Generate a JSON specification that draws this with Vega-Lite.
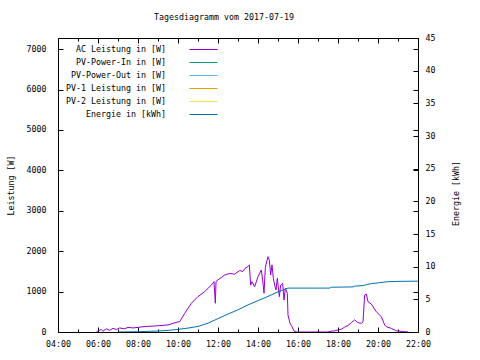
{
  "$schema": "https://vega.github.io/schema/vega-lite/v6.json",
  "width": 360,
  "height": 294,
  "autosize": {"type": "none"},
  "padding": {"left": 58, "top": 38, "right": 62, "bottom": 28},
  "background": "white",
  "title": {"text": "Tagesdiagramm vom 2017-07-19", "fontSize": 8.3, "fontWeight": "normal", "font": "DejaVu Sans Mono", "color": "black", "anchor": "middle", "dx": -14, "offset": 12},
  "config": {
    "font": "DejaVu Sans Mono",
    "view": {"stroke": "black", "strokeWidth": 1},
    "axis": {"grid": false, "domain": false, "labelFontSize": 8.3, "titleFontSize": 8.3, "titleFontWeight": "normal", "labelColor": "black", "titleColor": "black", "tickColor": "black", "labelFlush": false, "labelOverlap": false, "labelFont": "DejaVu Sans Mono", "titleFont": "DejaVu Sans Mono"}
  },
  "datasets": {
    "ac": [
      {"h": 5.917, "w": 0, "s": "AC Leistung in [W]"}, {"h": 6, "w": 30, "s": "AC Leistung in [W]"}, {"h": 6.167, "w": 60, "s": "AC Leistung in [W]"}, {"h": 6.25, "w": 20, "s": "AC Leistung in [W]"},
      {"h": 6.417, "w": 80, "s": "AC Leistung in [W]"}, {"h": 6.583, "w": 40, "s": "AC Leistung in [W]"}, {"h": 6.75, "w": 90, "s": "AC Leistung in [W]"}, {"h": 6.917, "w": 60, "s": "AC Leistung in [W]"},
      {"h": 7.083, "w": 100, "s": "AC Leistung in [W]"}, {"h": 7.333, "w": 80, "s": "AC Leistung in [W]"}, {"h": 7.5, "w": 115, "s": "AC Leistung in [W]"}, {"h": 7.75, "w": 100, "s": "AC Leistung in [W]"},
      {"h": 8, "w": 115, "s": "AC Leistung in [W]"}, {"h": 8.25, "w": 130, "s": "AC Leistung in [W]"}, {"h": 8.5, "w": 140, "s": "AC Leistung in [W]"}, {"h": 8.75, "w": 145, "s": "AC Leistung in [W]"},
      {"h": 9, "w": 155, "s": "AC Leistung in [W]"}, {"h": 9.25, "w": 165, "s": "AC Leistung in [W]"}, {"h": 9.5, "w": 175, "s": "AC Leistung in [W]"}, {"h": 9.75, "w": 215, "s": "AC Leistung in [W]"},
      {"h": 10, "w": 250, "s": "AC Leistung in [W]"}, {"h": 10.083, "w": 255, "s": "AC Leistung in [W]"}, {"h": 10.333, "w": 460, "s": "AC Leistung in [W]"}, {"h": 10.667, "w": 710, "s": "AC Leistung in [W]"},
      {"h": 11, "w": 875, "s": "AC Leistung in [W]"}, {"h": 11.333, "w": 1000, "s": "AC Leistung in [W]"}, {"h": 11.667, "w": 1160, "s": "AC Leistung in [W]"}, {"h": 11.8, "w": 1245, "s": "AC Leistung in [W]"},
      {"h": 11.867, "w": 710, "s": "AC Leistung in [W]"}, {"h": 11.9, "w": 1250, "s": "AC Leistung in [W]"}, {"h": 12, "w": 1290, "s": "AC Leistung in [W]"}, {"h": 12.333, "w": 1410, "s": "AC Leistung in [W]"},
      {"h": 12.583, "w": 1450, "s": "AC Leistung in [W]"}, {"h": 12.833, "w": 1430, "s": "AC Leistung in [W]"}, {"h": 13.083, "w": 1520, "s": "AC Leistung in [W]"}, {"h": 13.25, "w": 1500, "s": "AC Leistung in [W]"},
      {"h": 13.35, "w": 1575, "s": "AC Leistung in [W]"}, {"h": 13.5, "w": 1620, "s": "AC Leistung in [W]"}, {"h": 13.567, "w": 1660, "s": "AC Leistung in [W]"}, {"h": 13.633, "w": 1160, "s": "AC Leistung in [W]"},
      {"h": 13.7, "w": 1245, "s": "AC Leistung in [W]"}, {"h": 13.833, "w": 1120, "s": "AC Leistung in [W]"}, {"h": 14, "w": 1370, "s": "AC Leistung in [W]"}, {"h": 14.167, "w": 1535, "s": "AC Leistung in [W]"},
      {"h": 14.233, "w": 1290, "s": "AC Leistung in [W]"}, {"h": 14.3, "w": 960, "s": "AC Leistung in [W]"}, {"h": 14.367, "w": 1600, "s": "AC Leistung in [W]"}, {"h": 14.5, "w": 1865, "s": "AC Leistung in [W]"},
      {"h": 14.567, "w": 1780, "s": "AC Leistung in [W]"}, {"h": 14.633, "w": 1410, "s": "AC Leistung in [W]"}, {"h": 14.7, "w": 1660, "s": "AC Leistung in [W]"}, {"h": 14.767, "w": 1330, "s": "AC Leistung in [W]"},
      {"h": 14.833, "w": 1160, "s": "AC Leistung in [W]"}, {"h": 14.9, "w": 1040, "s": "AC Leistung in [W]"}, {"h": 14.967, "w": 1330, "s": "AC Leistung in [W]"}, {"h": 15.067, "w": 875, "s": "AC Leistung in [W]"},
      {"h": 15.133, "w": 1160, "s": "AC Leistung in [W]"}, {"h": 15.233, "w": 1200, "s": "AC Leistung in [W]"}, {"h": 15.3, "w": 790, "s": "AC Leistung in [W]"}, {"h": 15.367, "w": 1080, "s": "AC Leistung in [W]"},
      {"h": 15.467, "w": 960, "s": "AC Leistung in [W]"}, {"h": 15.5, "w": 420, "s": "AC Leistung in [W]"}, {"h": 15.6, "w": 215, "s": "AC Leistung in [W]"}, {"h": 15.7, "w": 130, "s": "AC Leistung in [W]"},
      {"h": 15.8, "w": 25, "s": "AC Leistung in [W]"}, {"h": 15.917, "w": 0, "s": "AC Leistung in [W]"}, {"h": 17.5, "w": 0, "s": "AC Leistung in [W]"}, {"h": 17.667, "w": 20, "s": "AC Leistung in [W]"},
      {"h": 17.833, "w": 30, "s": "AC Leistung in [W]"}, {"h": 18, "w": 50, "s": "AC Leistung in [W]"}, {"h": 18.167, "w": 70, "s": "AC Leistung in [W]"}, {"h": 18.333, "w": 120, "s": "AC Leistung in [W]"},
      {"h": 18.5, "w": 160, "s": "AC Leistung in [W]"}, {"h": 18.667, "w": 230, "s": "AC Leistung in [W]"}, {"h": 18.833, "w": 300, "s": "AC Leistung in [W]"}, {"h": 19, "w": 230, "s": "AC Leistung in [W]"},
      {"h": 19.167, "w": 215, "s": "AC Leistung in [W]"}, {"h": 19.25, "w": 250, "s": "AC Leistung in [W]"}, {"h": 19.333, "w": 915, "s": "AC Leistung in [W]"}, {"h": 19.417, "w": 940, "s": "AC Leistung in [W]"},
      {"h": 19.5, "w": 750, "s": "AC Leistung in [W]"}, {"h": 19.667, "w": 690, "s": "AC Leistung in [W]"}, {"h": 19.917, "w": 500, "s": "AC Leistung in [W]"}, {"h": 20.167, "w": 380, "s": "AC Leistung in [W]"},
      {"h": 20.333, "w": 175, "s": "AC Leistung in [W]"}, {"h": 20.417, "w": 130, "s": "AC Leistung in [W]"}, {"h": 20.667, "w": 90, "s": "AC Leistung in [W]"}, {"h": 20.917, "w": 30, "s": "AC Leistung in [W]"},
      {"h": 21.25, "w": 10, "s": "AC Leistung in [W]"}, {"h": 21.5, "w": 0, "s": "AC Leistung in [W]"}
    ],
    "en": [
      {"h": 7, "e": 0, "s": "Energie in [kWh]"}, {"h": 8, "e": 0.05, "s": "Energie in [kWh]"}, {"h": 9, "e": 0.15, "s": "Energie in [kWh]"}, {"h": 9.5, "e": 0.25, "s": "Energie in [kWh]"},
      {"h": 10, "e": 0.4, "s": "Energie in [kWh]"}, {"h": 10.5, "e": 0.6, "s": "Energie in [kWh]"}, {"h": 11, "e": 0.85, "s": "Energie in [kWh]"}, {"h": 11.5, "e": 1.35, "s": "Energie in [kWh]"},
      {"h": 12, "e": 2.05, "s": "Energie in [kWh]"}, {"h": 12.5, "e": 2.75, "s": "Energie in [kWh]"}, {"h": 13, "e": 3.4, "s": "Energie in [kWh]"}, {"h": 13.5, "e": 4.15, "s": "Energie in [kWh]"},
      {"h": 14, "e": 4.8, "s": "Energie in [kWh]"}, {"h": 14.5, "e": 5.45, "s": "Energie in [kWh]"}, {"h": 15, "e": 6.15, "s": "Energie in [kWh]"}, {"h": 15.5, "e": 6.72, "s": "Energie in [kWh]"},
      {"h": 17.583, "e": 6.72, "s": "Energie in [kWh]"}, {"h": 17.667, "e": 6.85, "s": "Energie in [kWh]"}, {"h": 18.75, "e": 6.9, "s": "Energie in [kWh]"}, {"h": 18.833, "e": 7.02, "s": "Energie in [kWh]"},
      {"h": 19.25, "e": 7.1, "s": "Energie in [kWh]"}, {"h": 19.417, "e": 7.25, "s": "Energie in [kWh]"}, {"h": 19.667, "e": 7.4, "s": "Energie in [kWh]"}, {"h": 20.083, "e": 7.55, "s": "Energie in [kWh]"},
      {"h": 20.5, "e": 7.7, "s": "Energie in [kWh]"}, {"h": 21, "e": 7.75, "s": "Energie in [kWh]"}, {"h": 22, "e": 7.78, "s": "Energie in [kWh]"}
    ]
  },
  "layer": [
    {
      "data": {"name": "ac"},
      "mark": {"type": "line", "strokeWidth": 1, "clip": true},
      "encoding": {
        "x": {"field": "h", "type": "quantitative",
          "scale": {"domain": [4, 22], "nice": false, "zero": false},
          "axis": {"orient": "bottom", "values": [4, 6, 8, 10, 12, 14, 16, 18, 20, 22], "labelExpr": "(datum.value < 10 ? '0' : '') + datum.value + ':00'", "labelOverlap": false, "tickSize": -5, "labelPadding": 12, "title": null}},
        "y": {"field": "w", "type": "quantitative", "scale": {"domain": [0, 7275], "nice": false},
          "axis": {"orient": "left", "values": [0, 1000, 2000, 3000, 4000, 5000, 6000, 7000], "format": "d", "tickSize": -5, "labelPadding": 17, "title": "Leistung [W]", "titlePadding": 11}},
        "color": {"field": "s", "type": "nominal",
          "scale": {"domain": ["AC Leistung in [W]", "PV-Power-In in [W]", "PV-Power-Out in [W]", "PV-1 Leistung in [W]", "PV-2 Leistung in [W]", "Energie in [kWh]"],
                    "range": ["#9400D3", "#009E73", "#56B4E9", "#E69F00", "#F0E442", "#0072B2"]},
          "legend": {"orient": "none", "legendX": 7, "legendY": 6, "title": null, "symbolType": "M-2.8,0H2.8", "symbolSize": 100, "symbolStrokeWidth": 1,
            "labelAlign": "right", "labelOffset": -43, "symbolOffset": 133, "labelFontSize": 8.3, "labelFont": "DejaVu Sans Mono", "labelColor": "black",
            "rowPadding": 4, "padding": 0, "labelLimit": 0}}
      }
    },
    {
      "data": {"name": "en"},
      "mark": {"type": "line", "strokeWidth": 1, "clip": true},
      "encoding": {
        "x": {"field": "h", "type": "quantitative", "scale": {"domain": [4, 22], "nice": false, "zero": false},
          "axis": {"orient": "top", "labels": false, "values": [4, 6, 8, 10, 12, 14, 16, 18, 20, 22], "tickSize": -5, "title": null}},
        "y": {"field": "e", "type": "quantitative", "scale": {"domain": [0, 45], "nice": false},
          "axis": {"orient": "right", "values": [0, 5, 10, 15, 20, 25, 30, 35, 40, 45], "tickSize": -5, "labelPadding": 12, "title": "Energie [kWh]", "titleAngle": 270, "titlePadding": 26, "titleY": 155}},
        "color": {"field": "s", "type": "nominal"}
      }
    },
    {
      "data": {"name": "ac"},
      "mark": {"type": "point", "opacity": 0},
      "encoding": {
        "x": {"field": "h", "type": "quantitative", "scale": {"domain": [4, 22], "nice": false, "zero": false},
          "axis": {"orient": "bottom", "labels": false, "values": [5, 7, 9, 11, 13, 15, 17, 19, 21], "tickSize": -3, "title": null}},
        "y": {"field": "w", "type": "quantitative", "scale": {"domain": [0, 7275], "nice": false},
          "axis": {"orient": "right", "labels": false, "values": [0, 1000, 2000, 3000, 4000, 5000, 6000, 7000], "tickSize": -5, "title": null}}
      }
    },
    {
      "data": {"name": "en"},
      "mark": {"type": "point", "opacity": 0},
      "encoding": {
        "x": {"field": "h", "type": "quantitative", "scale": {"domain": [4, 22], "nice": false, "zero": false},
          "axis": {"orient": "top", "labels": false, "values": [5, 7, 9, 11, 13, 15, 17, 19, 21], "tickSize": -3, "title": null}},
        "y": {"field": "e", "type": "quantitative", "scale": {"domain": [0, 45], "nice": false}, "axis": null}
      }
    }
  ],
  "resolve": {"scale": {"y": "independent"}, "axis": {"x": "independent", "y": "independent"}}
}
